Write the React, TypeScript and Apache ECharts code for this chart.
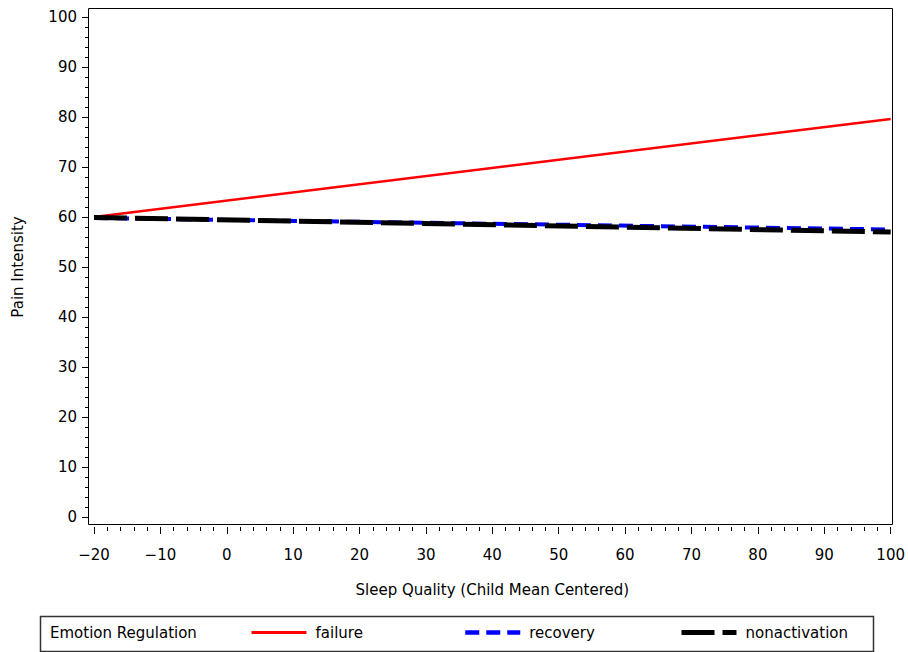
import React, { useEffect, useRef } from "react";
import * as echarts from "echarts";

const sleepQuality = [-20, 100];
const failure = [60.0, 79.6];
const recovery = [59.8, 57.5];
const nonactivation = [59.9, 57.0];
const seriesNames = ["failure", "recovery", "nonactivation"];
const xTitle = "Sleep Quality (Child Mean Centered)";
const yTitle = "Pain Intensity";
const legendTitle = "Emotion Regulation";

const FONT = "DejaVu Sans";

export default function App() {
  const ref = useRef<HTMLDivElement>(null);
  useEffect(() => {
    if (!ref.current) return;
    const chart = echarts.init(ref.current, undefined, { renderer: "svg" });
    const pairs = (ys: number[]) => sleepQuality.map((x, i) => [x, ys[i]]);
    const legendLefts = [245, 458, 674];
    const legendWidths = [3, 4.5, 5];
    chart.setOption({
      animation: false,
      backgroundColor: "#fff",
      textStyle: { fontFamily: FONT },
      grid: { left: 94, right: 16, top: 17, bottom: 135 },
      xAxis: {
        type: "value",
        min: -20,
        max: 100,
        interval: 10,
        offset: 10,
        axisLine: { show: false, onZero: false },
        axisTick: { show: true, length: 7, lineStyle: { color: "#000", width: 1 } },
        minorTick: { show: true, splitNumber: 5, length: 4, lineStyle: { color: "#000", width: 1 } },
        splitLine: { show: false },
        axisLabel: {
          color: "#000",
          fontSize: 15,
          fontFamily: FONT,
          margin: 20,
          formatter: (v: number) => (v < 0 ? "\u2212" + -v : String(v)),
        },
        name: xTitle,
        nameLocation: "middle",
        nameGap: 55,
        nameTextStyle: { color: "#000", fontSize: 15, fontFamily: FONT },
      },
      yAxis: {
        type: "value",
        min: 0,
        max: 100,
        interval: 10,
        offset: 5,
        axisLine: { show: false, onZero: false },
        axisTick: { show: true, length: 7, lineStyle: { color: "#000", width: 1 } },
        minorTick: { show: true, splitNumber: 5, length: 4, lineStyle: { color: "#000", width: 1 } },
        splitLine: { show: false },
        axisLabel: { color: "#000", fontSize: 15, fontFamily: FONT, margin: 12 },
        name: yTitle,
        nameLocation: "middle",
        nameGap: 64,
        nameTextStyle: { color: "#000", fontSize: 15, fontFamily: FONT },
      },
      legend: seriesNames.map((n, i) => ({
        data: [n],
        left: legendLefts[i],
        top: 620,
        itemWidth: 55,
        itemHeight: 2,
        selectedMode: false,
        lineStyle: { width: legendWidths[i] },
        textStyle: { color: "#000", fontSize: 15, fontFamily: FONT, padding: [0, 0, 0, 4] },
      })),
      graphic: [
        {
          type: "rect",
          shape: { x: 88.5, y: 8.5, width: 804, height: 516 },
          style: { fill: "none", stroke: "#000", lineWidth: 1 },
          silent: true,
        },
        {
          type: "rect",
          shape: { x: 40.5, y: 616.5, width: 833, height: 35 },
          style: { fill: "none", stroke: "#333", lineWidth: 1.5 },
          silent: true,
        },
        {
          type: "text",
          x: 50,
          y: 633,
          style: { text: legendTitle, fill: "#000", fontSize: 15, fontFamily: FONT, verticalAlign: "middle" },
          silent: true,
        },
      ],
      series: [
        {
          name: seriesNames[0],
          type: "line",
          data: pairs(failure),
          symbol: "none",
          lineStyle: { color: "#ff0000", width: 2.5, type: "solid" },
          itemStyle: { color: "#ff0000" },
        },
        {
          name: seriesNames[1],
          type: "line",
          data: pairs(recovery),
          symbol: "none",
          lineStyle: { color: "#0000ff", width: 4, type: [14, 7] },
          itemStyle: { color: "#0000ff" },
        },
        {
          name: seriesNames[2],
          type: "line",
          data: pairs(nonactivation),
          symbol: "none",
          lineStyle: { color: "#000", width: 5, type: [33, 8] },
          itemStyle: { color: "#000" },
        },
      ],
    });
    return () => chart.dispose();
  }, []);
  return (
    <div
      ref={ref}
      style={{ position: "fixed", left: 0, top: 0, width: 908, height: 652, background: "#fff" }}
    />
  );
}
